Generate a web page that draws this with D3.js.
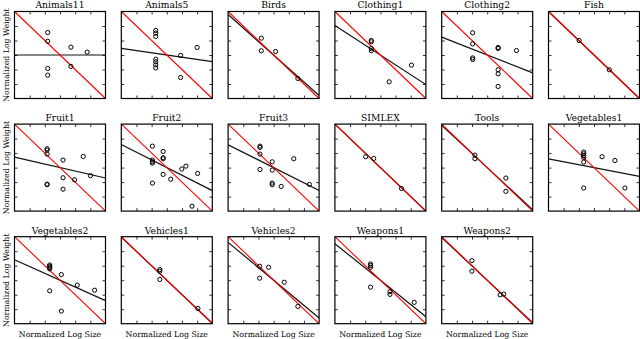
<!DOCTYPE html>
<html><head><meta charset="utf-8">
<script src="https://cdn.jsdelivr.net/npm/d3@7"></script>
<style>html,body{margin:0;padding:0;background:#fff}svg{display:block}</style>
</head><body>
<script>
const categories = ["Animals11","Animals5","Birds","Clothing1","Clothing2","Fish",
  "Fruit1","Fruit2","Fruit3","SIMLEX","Tools","Vegetables1",
  "Vegetables2","Vehicles1","Vehicles2","Weapons1","Weapons2"];
const pointsX = [
  [-0.81,-0.81,0.72,1.79,-0.81,-0.81,0.72],
  [-0.73,-0.73,-0.73,-0.73,-0.73,-0.73,-0.73,0.91,2.0,0.91],
  [-0.81,-0.81,0.13,1.60],
  [-0.60,-0.60,-0.60,-0.60,0.58,2.05],
  [-0.96,-0.96,-0.96,-0.96,0.72,0.72,1.93,0.72,0.72,0.72],
  [-0.98,1.01],
  [-0.85,-0.85,-0.85,0.20,1.53,0.20,0.96,2.01,-0.85,-0.85,0.20],
  [-0.95,-0.24,-0.24,-0.24,-0.95,-0.95,-0.95,0.99,1.26,2.03,-0.24,0.26,-0.95,1.66],
  [-0.90,-0.90,-0.90,-0.09,1.33,-0.90,-0.09,-0.09,-0.09,0.50,2.36],
  [-0.97,-0.44,1.39],
  [-0.81,-0.81,1.23,1.23],
  [-0.68,-0.68,-0.68,-0.68,-0.68,0.53,1.38,-0.68,2.04],
  [-0.68,-0.68,-0.68,-0.68,0.09,1.14,2.28,-0.68,0.09],
  [-0.46,-0.46,-0.46,2.05],
  [-0.92,-0.33,-0.92,0.70,1.60],
  [-0.65,-0.65,-0.65,-0.65,0.63,0.63,2.23],
  [-1.01,-1.01,0.85,1.09]
];
const pointsY = [
  [1.55,0.95,0.54,0.20,-0.93,-1.39,-0.79],
  [1.69,1.51,1.28,-0.29,-0.47,-0.68,-0.89,-0.03,0.52,-1.55],
  [1.16,0.29,0.24,-1.62],
  [1.00,0.91,0.45,0.29,-1.85,-0.70],
  [1.53,0.77,-0.20,-0.31,0.52,0.45,0.31,-1.02,-1.30,-2.17],
  [1.00,-1.02],
  [1.30,1.21,0.93,0.52,0.77,-0.70,-0.84,-0.56,-1.14,-1.18,-1.49],
  [1.48,1.11,0.68,0.61,0.52,0.40,0.31,-0.10,0.10,-0.40,-0.47,-0.80,-1.07,-2.66],
  [1.48,1.39,0.93,0.40,0.61,-0.13,-0.17,-1.07,-1.18,-1.30,-1.16],
  [0.75,0.63,-1.44],
  [0.86,0.61,-0.72,-1.64],
  [1.07,0.95,0.82,0.70,0.38,0.75,0.49,-1.41,-1.41],
  [1.05,0.96,0.87,0.78,0.39,-0.34,-0.69,-0.73,-2.13],
  [0.73,0.62,0.05,-1.95],
  [0.96,0.89,0.14,-0.14,-1.81],
  [1.12,1.01,0.89,-0.48,-0.80,-0.98,-1.53],
  [1.35,0.62,-1.01,-0.96]
];
const fitSlopes = [0.0,-0.153,-0.93,-0.68,-0.41,-1.0,-0.24,-0.53,-0.525,-1.0,-0.97,-0.20,-0.47,-0.99,-0.87,-0.84,-0.98];
const domainExtent = [-3, 3];
const tickValues = [-2,-1,0,1,2];
const xLabel = "Normalized Log Size";
const yLabel = "Normalized Log Weight";

const W = 640, H = 339;
const cols = 6;
const x0 = 14.5, stepX = 106.8, pw = 91;
const y0 = 11.5, stepY = 112.6, ph = 87;
const font = "DejaVu Serif";
const nRows = Math.ceil(categories.length / cols);

const svg = d3.select("body").append("svg").attr("width", W).attr("height", H);

const xs = d3.scaleLinear().domain(domainExtent).range([0, pw]);
const ys = d3.scaleLinear().domain(domainExtent).range([ph, 0]);
const line = d3.line().x(d => xs(d[0])).y(d => ys(d[1]));

categories.forEach((name, i) => {
  const c = i % cols, r = Math.floor(i / cols);
  const g = svg.append("g").attr("transform", `translate(${x0 + c*stepX},${y0 + r*stepY})`);
  const clipId = "clip" + i;
  g.append("clipPath").attr("id", clipId).append("rect").attr("width", pw).attr("height", ph);

  const tick = (axis, tr) => {
    const a = g.append("g").attr("transform", tr)
      .call(axis.tickValues(tickValues).tickSize(-3).tickFormat(""));
    a.select(".domain").remove();
    a.selectAll("line").attr("stroke", "#000").attr("stroke-width", 0.8);
  };
  tick(d3.axisBottom(xs), `translate(0,${ph})`);
  tick(d3.axisTop(xs), `translate(0,0)`);
  tick(d3.axisLeft(ys), `translate(0,0)`);
  tick(d3.axisRight(ys), `translate(${pw},0)`);

  const inner = g.append("g").attr("clip-path", `url(#${clipId})`);
  const s = fitSlopes[i];
  inner.append("path").datum(domainExtent.map(v => [v, s*v]))
    .attr("d", line).attr("fill", "none").attr("stroke", "#111").attr("stroke-width", 1.2);
  inner.append("path").datum(domainExtent.map(v => [v, -v]))
    .attr("d", line).attr("fill", "none").attr("stroke", "#ff0000").attr("stroke-width", 1.1);

  const pts = pointsX[i].map((v, k) => [v, pointsY[i][k]]);
  g.selectAll("circle.pt").data(pts).join("circle").attr("class", "pt")
    .attr("cx", d => xs(d[0])).attr("cy", d => ys(d[1])).attr("r", 2.1)
    .attr("fill", "none").attr("stroke", "#000").attr("stroke-width", 1);

  g.append("rect").attr("width", pw).attr("height", ph)
    .attr("fill", "none").attr("stroke", "#000").attr("stroke-width", 1.2);

  g.append("text").attr("x", pw/2).attr("y", -3.2).attr("text-anchor", "middle")
    .attr("font-family", font).attr("font-size", 9.2).attr("fill", "#000").text(name);

  if (c === 0) {
    g.append("text").attr("transform", `translate(${-6},${ph/2}) rotate(-90)`)
      .attr("text-anchor", "middle").attr("font-family", font).attr("font-size", 7.8)
      .attr("fill", "#000").text(yLabel);
  }
  if (r === nRows - 1) {
    g.append("text").attr("x", pw/2).attr("y", ph + 13)
      .attr("text-anchor", "middle").attr("font-family", font).attr("font-size", 7.8)
      .attr("fill", "#000").text(xLabel);
  }
});
</script>
</body></html>
